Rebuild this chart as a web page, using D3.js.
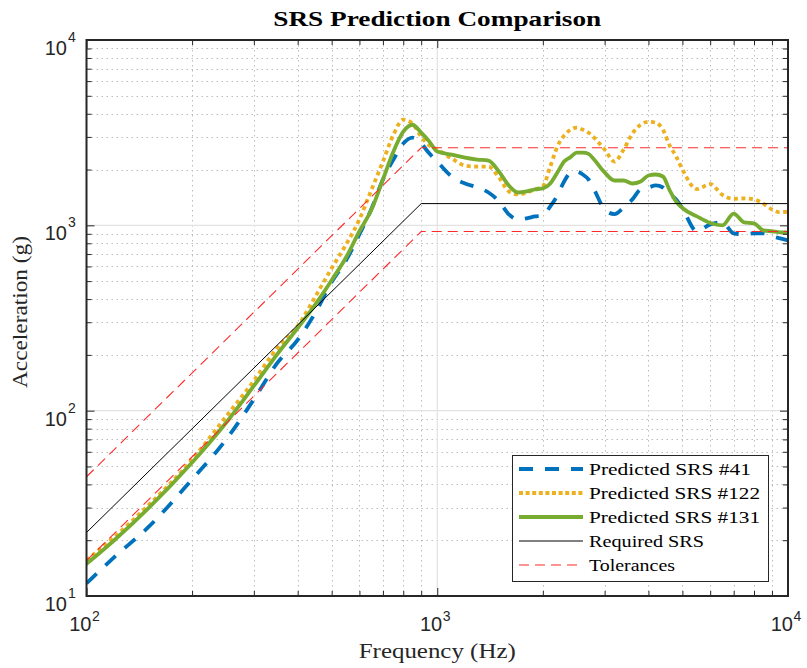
<!DOCTYPE html>
<html><head><meta charset="utf-8">
<script src="https://cdn.jsdelivr.net/npm/d3@7"></script>
<style>body{margin:0;background:#fff;} svg{display:block}</style>
</head><body>
<svg id="chart" width="807" height="668"></svg>
<script>
// ---------- data ----------
const freq = [100,120,150,200,250,300,350,400,450,500,550,600,650,700,750,800,850,900,950,1000,
  1100,1200,1300,1400,1500,1600,1700,1800,1900,2000,
  2100,2200,2300,2400,2500,2600,2700,2800,
  3000,3200,3400,3600,3800,4000,4200,4400,4600,4800,5000,
  5500,6000,6500,7000,7500,8000,8500,9000,9500,10000];
const srs41 = [11.7,16.2,23.5,42.6,69.8,115,181,241,340,494,649,895,1233,1767,2264,2761,2972,2761,2438,2208,
  1834,1682,1600,1504,1346,1146,1077,1091,1117,1132,
  1265,1449,1724,1926,1950,1880,1767,1563,
  1220,1150,1250,1380,1563,1600,1641,1600,1468,1380,1233,
  929,1012,1038,906,895,906,906,873,851,830];
const srs122 = [15.6,20.8,30.8,54.5,92.9,145,218,286,415,587,790,1077,1563,2208,3086,3715,3535,3010,2692,2563,
  2291,2102,2075,2075,1810,1524,1468,1504,1563,1622,
  2075,2660,3048,3281,3365,3281,3162,2972,
  2563,2208,2563,3126,3490,3622,3578,3281,2692,2350,2000,
  1570,1670,1460,1390,1397,1380,1310,1219,1175,1189];
const srs131 = [14.9,20.0,29.7,52.5,86.1,136,202,279,376,506,673,929,1220,1767,2500,3200,3490,3162,2829,2500,
  2408,2320,2264,2235,1950,1641,1504,1524,1563,1581,
  1682,1926,2208,2335,2468,2468,2430,2264,
  1930,1745,1745,1682,1724,1857,1880,1834,1544,1343,1240,
  1117,1030,1000,1158,1038,1025,940,929,917,917];
const reqFreq = [100, 900, 10000];
const reqAccel = [22, 1310, 1310];
const tolUpper = [44, 2620, 2620];
const tolLower = [15.5, 926, 926];
const xTicks = [100, 1000, 10000];
const yTicks = [10, 100, 1000, 10000];
const legendNames = ["Predicted SRS #41","Predicted SRS #122","Predicted SRS #131","Required SRS","Tolerances"];
const titleText = "SRS Prediction Comparison";
const xLabelText = "Frequency (Hz)";
const yLabelText = "Acceleration (g)";

// ---------- layout ----------
const L = 86.5, R = 788, T = 40, B = 596;
const svg = d3.select("#chart");
const x = d3.scaleLog().domain([100, 10000]).range([L, R]);
const y = d3.scaleLog().domain([10, 10000]).range([B, T]);
const axisColor = "#262626";
const serif = "'Liberation Serif','Times New Roman',serif";
const sans = "'Liberation Sans',Arial,Helvetica,sans-serif";

const minorX = [], minorY = [];
[100,1000].forEach(d => { for (let k=2;k<=9;k++) minorX.push(d*k); });
[10,100,1000].forEach(d => { for (let k=2;k<=9;k++) minorY.push(d*k); });

// background
svg.append("rect").attr("width",807).attr("height",668).attr("fill","#fff");

// grid
const grid = svg.append("g");
grid.selectAll(".mgx").data(minorX).join("line")
  .attr("x1", d=>Math.round(x(d))+0.5).attr("x2", d=>Math.round(x(d))+0.5)
  .attr("y1", T).attr("y2", B)
  .attr("stroke","#bdbdbd").attr("stroke-width",1).attr("stroke-dasharray","1.5,3.5");
grid.selectAll(".mgy").data(minorY).join("line")
  .attr("y1", d=>Math.round(y(d))+0.5).attr("y2", d=>Math.round(y(d))+0.5)
  .attr("x1", L).attr("x2", R)
  .attr("stroke","#bdbdbd").attr("stroke-width",1).attr("stroke-dasharray","1.5,3.5");
grid.selectAll(".Mgx").data(xTicks).join("line")
  .attr("x1", d=>x(d)).attr("x2", d=>x(d)).attr("y1", T).attr("y2", B)
  .attr("stroke","#e2e2e2").attr("stroke-width",1.2);
grid.selectAll(".Mgy").data(yTicks).join("line")
  .attr("y1", d=>y(d)).attr("y2", d=>y(d)).attr("x1", L).attr("x2", R)
  .attr("stroke","#e2e2e2").attr("stroke-width",1.2);

// clip
svg.append("clipPath").attr("id","clip").append("rect")
  .attr("x",L).attr("y",T).attr("width",R-L).attr("height",B-T);
const plot = svg.append("g").attr("clip-path","url(#clip)");

const line = d3.line().x(d=>x(d[0])).y(d=>y(d[1]));
const lineSmooth = d3.line().x(d=>x(d[0])).y(d=>y(d[1])).curve(d3.curveMonotoneX);

const series = [
  {vals: srs41, color:"#0072BD", w:3.8, dash:"14,12", cap:"butt"},
  {vals: srs122, color:"#EDB120", w:3.8, dash:"4,3.5", cap:"butt"},
  {vals: srs131, color:"#77AC30", w:3.8, dash:null, cap:"round"}
];
series.forEach(s => {
  plot.append("path").datum(freq.map((f,i)=>[f, s.vals[i]]))
    .attr("d", lineSmooth).attr("fill","none").attr("stroke", s.color)
    .attr("stroke-width", s.w).attr("stroke-linejoin","round").attr("stroke-linecap", s.cap)
    .attr("stroke-dasharray", s.dash);
});
plot.append("path").datum(reqFreq.map((f,i)=>[f, reqAccel[i]]))
  .attr("d", line).attr("fill","none").attr("stroke","#000").attr("stroke-width",1);
[tolUpper, tolLower].forEach(arr => {
  plot.append("path").datum(reqFreq.map((f,i)=>[f, arr[i]]))
    .attr("d", line).attr("fill","none").attr("stroke","#ff2a2a").attr("stroke-width",1.1)
    .attr("stroke-dasharray","10,6");
});

// axes (ticks inside on all four sides)
function addAxis(axisFn, scale, vals, size, transform) {
  svg.append("g").attr("transform", transform)
    .call(axisFn(scale).tickValues(vals).tickSize(size).tickFormat(""))
    .call(g => { g.select(".domain").remove(); g.selectAll("line").attr("stroke", axisColor).attr("stroke-width",1); });
}
addAxis(d3.axisBottom, x, xTicks, -8, `translate(0,${B})`);
addAxis(d3.axisBottom, x, minorX, -5, `translate(0,${B})`);
addAxis(d3.axisTop, x, xTicks, -8, `translate(0,${T})`);
addAxis(d3.axisTop, x, minorX, -5, `translate(0,${T})`);
addAxis(d3.axisLeft, y, yTicks, -8, `translate(${L},0)`);
addAxis(d3.axisLeft, y, minorY, -5, `translate(${L},0)`);
addAxis(d3.axisRight, y, yTicks, -8, `translate(${R},0)`);
addAxis(d3.axisRight, y, minorY, -5, `translate(${R},0)`);
svg.append("rect").attr("x",L).attr("y",T).attr("width",R-L).attr("height",B-T)
  .attr("fill","none").attr("stroke",axisColor).attr("stroke-width",2);

// tick labels
const xl = svg.append("g").attr("font-family", sans).attr("fill","#262626");
xTicks.forEach(t => {
  const e = Math.round(Math.log10(t));
  xl.append("text").attr("x", x(t)+5).attr("y", 631).attr("text-anchor","end").attr("font-size",20).text("10");
  xl.append("text").attr("x", x(t)+5.5).attr("y", 621).attr("text-anchor","start").attr("font-size",14).text(e);
});
yTicks.forEach(t => {
  const e = Math.round(Math.log10(t));
  xl.append("text").attr("x", 67).attr("y", y(t)+15).attr("text-anchor","end").attr("font-size",20).text("10");
  xl.append("text").attr("x", 68).attr("y", y(t)+2).attr("text-anchor","start").attr("font-size",14).text(e);
});

// text helper: fit to target width
function fitText(sel, target) {
  sel.attr("textLength", target).attr("lengthAdjust","spacingAndGlyphs");
}
const title = svg.append("text").attr("x", (L+R)/2).attr("y", 26).attr("text-anchor","middle")
  .attr("font-family", serif).attr("font-weight","bold").attr("font-size",20).attr("fill","#000").text(titleText);
fitText(title, 328);
const xlab = svg.append("text").attr("x", (L+R)/2).attr("y", 658).attr("text-anchor","middle")
  .attr("font-family", serif).attr("font-size",20).attr("fill","#262626").text(xLabelText);
fitText(xlab, 157);
const ylab = svg.append("text").attr("transform", `translate(27,${(T+B)/2-6}) rotate(-90)`).attr("text-anchor","middle")
  .attr("font-family", serif).attr("font-size",20).attr("fill","#262626").text(yLabelText);
fitText(ylab, 152);

// legend
const lg = svg.append("g");
lg.append("rect").attr("x",512.5).attr("y",455.5).attr("width",256).attr("height",126)
  .attr("fill","#fff").attr("stroke",axisColor).attr("stroke-width",1);
const legStyles = [
  {color:"#0072BD", w:3.8, dash:"14,12"},
  {color:"#EDB120", w:3.8, dash:"4,2.6"},
  {color:"#77AC30", w:3.8, dash:null},
  {color:"#000", w:1, dash:null},
  {color:"#ff2a2a", w:1.1, dash:"10,6"}
];
const legWidths = [162, 171, 171, 115, 86];
legendNames.forEach((name, i) => {
  const yy = 469 + i*24;
  lg.append("line").attr("x1",519).attr("x2",583).attr("y1",yy).attr("y2",yy)
    .attr("stroke", legStyles[i].color).attr("stroke-width", legStyles[i].w)
    .attr("stroke-dasharray", legStyles[i].dash);
  const t = lg.append("text").attr("x",589).attr("y",yy+6).attr("font-family",serif)
    .attr("font-size",17).attr("fill","#000").text(name);
  fitText(t, legWidths[i]);
});
</script>
</body></html>
